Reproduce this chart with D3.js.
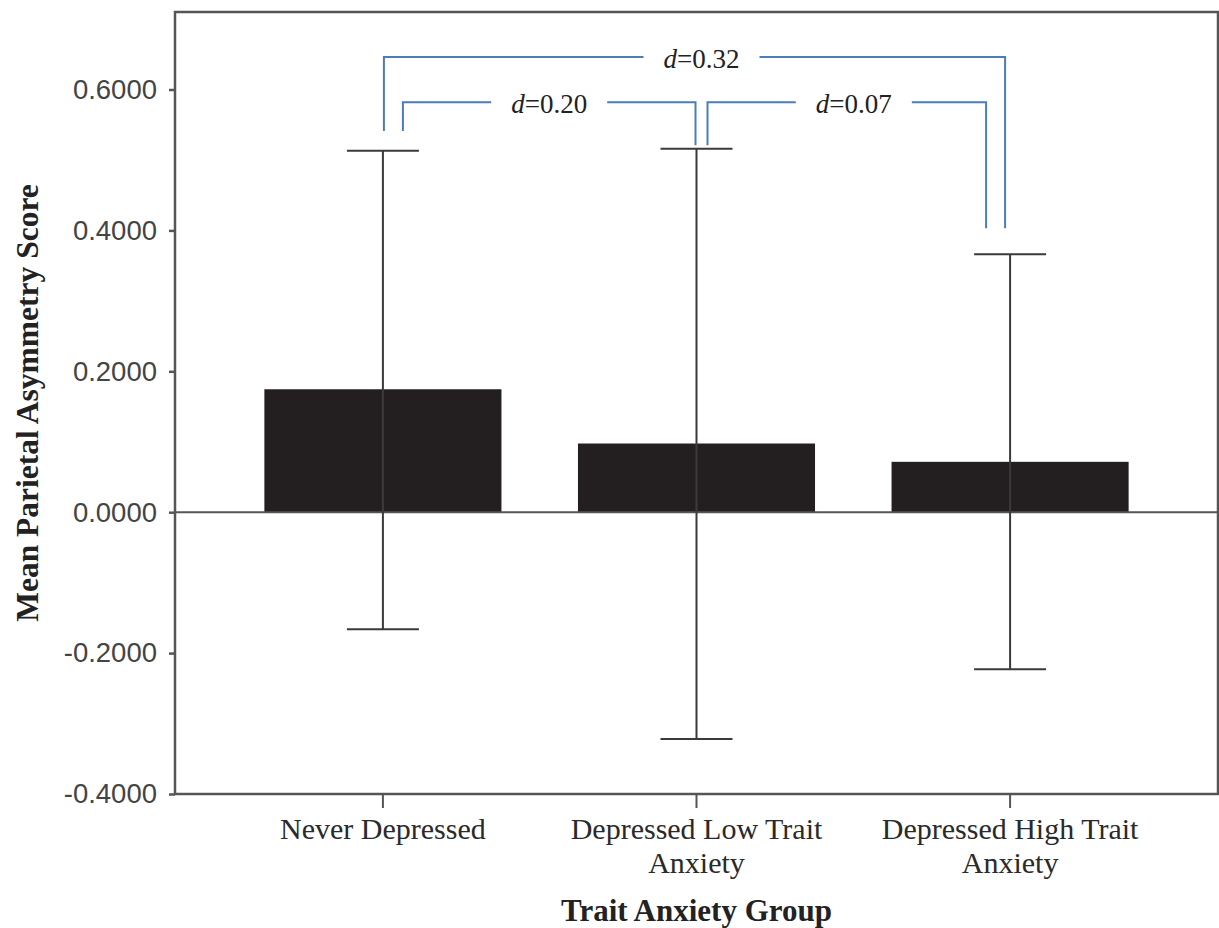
<!DOCTYPE html>
<html>
<head>
<meta charset="utf-8">
<script src="https://cdn.jsdelivr.net/npm/d3@7"></script>
<style>
  body { margin: 0; background: #fff; }
  svg { display: block; }
</style>
</head>
<body>
<svg id="chart"></svg>
<script>
'use strict';
const GROUPS = ['Never Depressed', 'Depressed Low Trait Anxiety', 'Depressed High Trait Anxiety'];
const GROUP_LINES = [['Never Depressed'], ['Depressed Low Trait', 'Anxiety'], ['Depressed High Trait', 'Anxiety']];
const MEANS = [0.1745, 0.0975, 0.0715];
const CI_LOW = [-0.166, -0.322, -0.223];
const CI_HIGH = [0.513, 0.516, 0.366];
const Y_TICKS = [-0.4, -0.2, 0, 0.2, 0.4, 0.6];

// effect size brackets: from group, to group, label, top level, bottom levels
const BRACKET_FROM = [0, 0, 1];
const BRACKET_TO = [2, 1, 2];
const BRACKET_LABELS = ['0.32', '0.20', '0.07'];
const BRACKET_TOP = [0.646, 0.582, 0.582];
const BRACKET_FROM_END = [0.541, 0.541, 0.521];
const BRACKET_TO_END = [0.403, 0.521, 0.403];

const W = 1219, H = 928;
const margin = { top: 12, right: 1, bottom: 134, left: 175 };
const AXIS_COLOR = '#555';
const BLUE = '#4a7ebb';
const SERIF = '"Liberation Serif", "Times New Roman", serif';

const svg = d3.select('#chart').attr('width', W).attr('height', H);

const x = d3.scaleBand()
  .domain(GROUPS)
  .range([margin.left, W - margin.right])
  .paddingInner(0.244)
  .paddingOuter(0.285);

const y = d3.scaleLinear()
  .domain([-0.4, 0.71])
  .range([H - margin.bottom, margin.top]);

const cx = (i) => x(GROUPS[i]) + x.bandwidth() / 2;

// bars
svg.append('g')
  .selectAll('rect')
  .data(MEANS)
  .join('rect')
  .attr('x', (d, i) => x(GROUPS[i]))
  .attr('width', x.bandwidth())
  .attr('y', (d) => y(Math.max(0, d)))
  .attr('height', (d) => Math.abs(y(d) - y(0)))
  .attr('fill', '#231f20');

// zero line
svg.append('line')
  .attr('x1', margin.left).attr('x2', W - margin.right)
  .attr('y1', y(0)).attr('y2', y(0))
  .attr('stroke', AXIS_COLOR).attr('stroke-width', 2);

// error bars
const capHalf = 36;
const err = svg.append('g').attr('stroke', '#3a3a3a').attr('stroke-width', 2);
GROUPS.forEach((g, i) => {
  err.append('line')
    .attr('x1', cx(i)).attr('x2', cx(i))
    .attr('y1', y(CI_LOW[i])).attr('y2', y(CI_HIGH[i]));
  [CI_LOW[i], CI_HIGH[i]].forEach((v) => {
    err.append('line')
      .attr('x1', cx(i) - capHalf).attr('x2', cx(i) + capHalf)
      .attr('y1', y(v)).attr('y2', y(v));
  });
});

// frame
svg.append('rect')
  .attr('x', margin.left).attr('y', margin.top)
  .attr('width', W - margin.right - margin.left)
  .attr('height', H - margin.bottom - margin.top)
  .attr('fill', 'none')
  .attr('stroke', AXIS_COLOR)
  .attr('stroke-width', 2.5);

// y axis
const fmt = d3.format('.4f');
const yAxis = svg.append('g')
  .attr('transform', `translate(${margin.left},0)`)
  .call(d3.axisLeft(y).tickValues(Y_TICKS).tickSize(6).tickPadding(12)
    .tickFormat((d) => fmt(d).replace('\u2212', '-')));
yAxis.select('.domain').remove();
yAxis.selectAll('.tick line').attr('stroke', AXIS_COLOR).attr('stroke-width', 2.5);
yAxis.selectAll('.tick text')
  .attr('fill', '#444')
  .style('font-family', '"Liberation Sans", Arial, sans-serif')
  .style('font-size', '27.5px');

// x axis
const xAxis = svg.append('g')
  .attr('transform', `translate(0,${H - margin.bottom})`)
  .call(d3.axisBottom(x).tickSize(14).tickFormat(''));
xAxis.select('.domain').remove();
xAxis.selectAll('.tick line').attr('stroke', AXIS_COLOR).attr('stroke-width', 2);

// category labels, wrapped on two lines
const catLabels = svg.append('g')
  .style('font-family', SERIF)
  .style('font-size', '30px')
  .attr('fill', '#2a2a2a')
  .attr('text-anchor', 'middle');
GROUP_LINES.forEach((lines, i) => {
  lines.forEach((ln, j) => {
    catLabels.append('text')
      .attr('x', cx(i))
      .attr('y', 839 + j * 34)
      .text(ln);
  });
});

// axis titles
svg.append('text')
  .attr('x', (margin.left + W - margin.right) / 2)
  .attr('y', 921)
  .attr('text-anchor', 'middle')
  .style('font-family', SERIF)
  .style('font-size', '31px')
  .style('font-weight', 'bold')
  .attr('fill', '#222')
  .text('Trait Anxiety Group');

svg.append('text')
  .attr('transform', `translate(38,${(margin.top + H - margin.bottom) / 2}) rotate(-90)`)
  .attr('text-anchor', 'middle')
  .style('font-family', SERIF)
  .style('font-size', '31.5px')
  .style('font-weight', 'bold')
  .attr('fill', '#222')
  .text('Mean Parietal Asymmetry Score');

// brackets
const FROM_DX = [1, 20, 11];
const TO_DX = [-5, -1, -24];
const TEXT_DX = [7, 0, 7];
const GAP = 20;
const brackets = svg.append('g');
BRACKET_LABELS.forEach((lab, i) => {
  const x1 = cx(BRACKET_FROM[i]) + FROM_DX[i];
  const x2 = cx(BRACKET_TO[i]) + TO_DX[i];
  const yt = y(BRACKET_TOP[i]);
  const mid = (x1 + x2) / 2 + TEXT_DX[i];
  const txt = brackets.append('text')
    .attr('x', mid).attr('y', yt + 11)
    .attr('text-anchor', 'middle')
    .style('font-family', SERIF)
    .style('font-size', '27px')
    .attr('fill', '#222');
  txt.append('tspan').style('font-style', 'italic').text('d');
  txt.append('tspan').text('=' + lab);
  const tw = txt.node().getComputedTextLength();
  const line = d3.line();
  const path = brackets.append('g').attr('stroke', BLUE).attr('stroke-width', 2).attr('fill', 'none');
  path.append('path').attr('d', line([[x1, y(BRACKET_FROM_END[i])], [x1, yt], [mid - tw / 2 - GAP, yt]]));
  path.append('path').attr('d', line([[mid + tw / 2 + GAP, yt], [x2, yt], [x2, y(BRACKET_TO_END[i])]]));
});
</script>
</body>
</html>
